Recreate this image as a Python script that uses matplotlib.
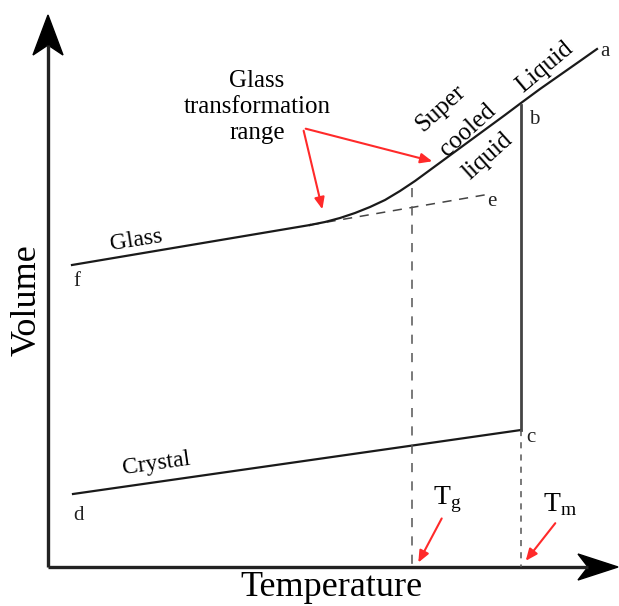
import numpy as np
import matplotlib
matplotlib.use('Agg')
import matplotlib.pyplot as plt
from matplotlib.patches import Polygon

# volume-temperature diagram for glass / crystal, coordinates in picture pixels
plt.rcParams['font.family'] = ['Liberation Serif', 'DejaVu Serif']

# axes
x0, y0 = 48, 567          # origin
x_end, y_top = 618, 15    # arrow tips

# glass line f -> departure from liquid curve, dashed extension to e
glass_x = [72, 310]
glass_y = [265, 225]
glass_ext_x = [310, 490]
glass_ext_y = [225, 194]

# supercooled liquid + liquid curve (departure point -> a)
liq_x = [310, 325, 340, 355, 370, 385, 400, 415, 430, 445, 460, 475, 490, 505, 521, 540, 560, 580, 597]
liq_y = [225, 222, 218, 213, 207, 200, 191, 181, 170, 159, 148, 137, 126, 115, 103, 89, 75, 61, 49]

# crystal line d -> c
cryst_x = [73, 521]
cryst_y = [494, 430]

# melting drop b -> c, and temperature markers
T_m = 521
T_g = 412
b_y, c_y = 105, 430
tg_top = 188

fig = plt.figure(figsize=(6.19, 6.06), dpi=100)
ax = fig.add_axes([0, 0, 1, 1])
ax.set_xlim(0, 619)
ax.set_ylim(606, 0)
ax.axis('off')

# axis lines with arrow heads
ax.plot([x0, x0], [y0, y_top + 30], color='#222222', lw=2.4, solid_capstyle='butt')
ax.plot([x0, x_end - 30], [y0, y0], color='#222222', lw=2.4, solid_capstyle='butt')
ax.add_patch(Polygon([[x0, y_top], [x0 - 15, y_top + 40], [x0, y_top + 30], [x0 + 15, y_top + 40]],
                     closed=True, color='black'))
ax.add_patch(Polygon([[x_end, y0], [x_end - 40, y0 - 13], [x_end - 30, y0], [x_end - 40, y0 + 13]],
                     closed=True, color='black'))

# curves
ax.plot(glass_x, glass_y, color='#1a1a1a', lw=1.6)
ax.plot(glass_ext_x, glass_ext_y, color='#444444', lw=1.1, ls=(0, (6, 5)))
ax.plot(liq_x, liq_y, color='#1a1a1a', lw=1.6, solid_joinstyle='round')
ax.plot(cryst_x, cryst_y, color='#1a1a1a', lw=1.6)
ax.plot([T_m, T_m], [b_y, c_y], color='#444444', lw=2.0)
ax.plot([T_m, T_m], [c_y, y0], color='#555555', lw=1.1, ls=(0, (4, 4)))
ax.plot([T_g, T_g], [tg_top, y0], color='#555555', lw=1.1, ls=(0, (6, 6)))

# point labels
pts = {'a': (600, 52), 'b': (529, 120), 'c': (526, 437), 'd': (73, 516),
       'e': (487, 202), 'f': (73, 282)}
for k, (px, py) in pts.items():
    ax.text(px, py, k, fontsize=15, ha='left', va='center', color='#222222')

# region labels
ax.text(136, 240, 'Glass', fontsize=17, rotation=9, ha='center', va='center')
ax.text(156, 464, 'Crystal', fontsize=17, rotation=8, ha='center', va='center')
ax.text(441, 108, 'Super', fontsize=18, rotation=42, ha='center', va='center')
ax.text(468, 130, 'cooled', fontsize=18, rotation=42, ha='center', va='center')
ax.text(488, 156, 'liquid', fontsize=18, rotation=42, ha='center', va='center')
ax.text(545, 67, 'Liquid', fontsize=18, rotation=40, ha='center', va='center')
ax.text(257, 107, 'Glass\ntransformation\nrange', fontsize=18, ha='center', va='center',
        linespacing=1.25)

# red pointers
red = '#ff2a2a'
arr = dict(arrowstyle='-|>,head_length=0.7,head_width=0.3', color=red, lw=1.5)
ax.annotate('', xy=(323, 212), xytext=(303, 128), arrowprops=arr)
ax.annotate('', xy=(435, 162), xytext=(303, 128), arrowprops=arr)
ax.annotate('', xy=(417, 565), xytext=(443, 516), arrowprops=arr)
ax.annotate('', xy=(524, 563), xytext=(557, 521), arrowprops=arr)
ax.text(447, 500, r'T$_\mathregular{g}$', fontsize=20, ha='center', va='center')
ax.text(560, 505, r'T$_\mathregular{m}$', fontsize=20, ha='center', va='center')

# axis titles
ax.text(331, 587, 'Temperature', fontsize=26, ha='center', va='center')
ax.text(27, 300, 'Volume', fontsize=26, rotation=90, ha='center', va='center')

fig.savefig('out.png', dpi=100)
